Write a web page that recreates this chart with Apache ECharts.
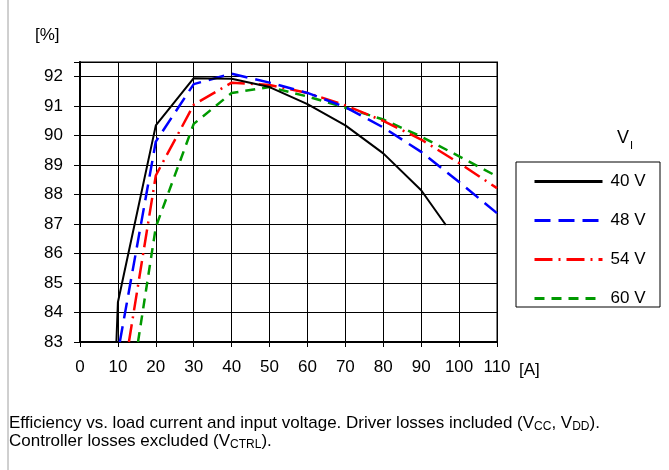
<!DOCTYPE html>
<html>
<head>
<meta charset="utf-8">
<script src="https://cdn.jsdelivr.net/npm/echarts@6/dist/echarts.min.js"></script>
<style>
  html, body { margin: 0; padding: 0; background: #fff; }
  #chart { width: 669px; height: 470px; }
</style>
</head>
<body>
<div id="chart"></div>
<script>
// Efficiency [%] vs. load current [A] for four input voltages
const seriesNames = ['40 V', '48 V', '54 V', '60 V'];

const current40 = [9.6, 10, 20, 30, 40, 50, 60, 70, 80, 90, 96.5];
const eff40     = [83, 84.35, 90.35, 91.95, 91.93, 91.65, 91.07, 90.35, 89.4, 88.15, 86.97];

const current48 = [10.5, 20, 30, 40, 50, 60, 70, 80, 90, 100, 110];
const eff48     = [83, 89.8, 91.75, 92.1, 91.8, 91.45, 90.97, 90.28, 89.45, 88.43, 87.37];

const current54 = [12.9, 20, 30, 40, 50, 60, 70, 80, 90, 100, 110];
const eff54     = [83, 88.65, 91.05, 91.8, 91.72, 91.45, 91.03, 90.5, 89.87, 89.07, 88.22];

const current60 = [15.3, 20, 30, 40, 50, 60, 70, 80, 90, 100, 110];
const eff60     = [83, 86.9, 90.4, 91.45, 91.65, 91.33, 90.95, 90.55, 89.97, 89.3, 88.62];

const xTicks = [0, 10, 20, 30, 40, 50, 60, 70, 80, 90, 100, 110];
const yTicks = [83, 84, 85, 86, 87, 88, 89, 90, 91, 92];

const pairs = (xs, ys) => xs.map((x, i) => [x, ys[i]]);

const FONT = '"Liberation Sans", Arial, sans-serif';

const lineStyles = [
  { color: '#000000', width: 2, type: 'solid' },
  { color: '#0000ff', width: 2.5, type: [16, 8] },
  { color: '#ff0000', width: 2.5, type: [18, 6, 2, 6] },
  { color: '#009900', width: 2.5, type: [10, 7] }
];
const dataSets = [
  pairs(current40, eff40),
  pairs(current48, eff48),
  pairs(current54, eff54),
  pairs(current60, eff60)
];

const chart = echarts.init(document.getElementById('chart'), null, { renderer: 'canvas' });

chart.setOption({
  backgroundColor: '#ffffff',
  animation: false,
  textStyle: { fontFamily: FONT },
  grid: {
    left: 80, right: 172, top: 62, bottom: 128,
    show: true, borderColor: '#808080', borderWidth: 2
  },
  xAxis: {
    type: 'value',
    min: xTicks[0], max: xTicks[xTicks.length - 1], interval: 10,
    axisLine: { show: true, onZero: false, lineStyle: { color: '#000', width: 2 } },
    axisTick: { show: true, length: 5, lineStyle: { color: '#000', width: 1 } },
    axisLabel: { color: '#000', fontSize: 17, margin: 17, fontFamily: FONT },
    splitLine: { show: true, lineStyle: { color: '#000', width: 1 } }
  },
  yAxis: {
    type: 'value',
    min: yTicks[0], max: 92.5, interval: 1,
    axisLine: { show: true, onZero: false, lineStyle: { color: '#000', width: 2 } },
    axisTick: { show: true, length: 6, lineStyle: { color: '#000', width: 1 } },
    axisLabel: {
      color: '#000', fontSize: 17, margin: 17, fontFamily: FONT,
      formatter: v => (yTicks.indexOf(v) >= 0 ? String(v) : '')
    },
    splitLine: { show: true, lineStyle: { color: '#000', width: 1 } }
  },
  legend: {
    orient: 'vertical',
    left: 533, top: 173,
    padding: 0,
    itemWidth: 68, itemHeight: 14,
    itemGap: 22,
    itemStyle: { opacity: 0 },
    lineStyle: { width: 3 },
    textStyle: { color: '#000', fontSize: 17, fontFamily: FONT, padding: [0, 0, 0, 3] },
    data: seriesNames
  },
  series: seriesNames.map((name, i) => ({
    name,
    type: 'line',
    data: dataSets[i],
    symbol: 'none',
    lineStyle: lineStyles[i],
    itemStyle: { color: lineStyles[i].color },
    z: 10 - i
  })),
  graphic: [
    // page frame on the left
    { type: 'line', shape: { x1: 8, y1: 0, x2: 8, y2: 470 },
      style: { stroke: '#a0a0a0', lineWidth: 1 } },
    // legend frame
    { type: 'rect', shape: { x: 516, y: 162, width: 144, height: 145 },
      style: { fill: 'none', stroke: '#000', lineWidth: 1 } },
    // legend title V_I
    { type: 'text', left: 617, top: 129,
      style: {
        text: '{v|V}{s|I}',
        rich: {
          v: { fontSize: 18, fontFamily: FONT, fill: '#000' },
          s: { fontSize: 11, fontFamily: FONT, fill: '#000', verticalAlign: 'bottom', padding: [0, 0, -4, 1] }
        }
      } },
    // axis units
    { type: 'text', left: 35, top: 27,
      style: { text: '[%]', fontSize: 17, fontFamily: FONT, fill: '#000' } },
    { type: 'text', left: 519, top: 362,
      style: { text: '[A]', fontSize: 17, fontFamily: FONT, fill: '#000' } },
    // caption
    { type: 'text', left: 9, top: 414,
      style: {
        text: 'Efficiency vs. load current and input voltage. Driver losses included (V{s|CC}, V{s|DD}).\nController losses excluded (V{s|CTRL}).',
        fontSize: 17, fontFamily: FONT, fill: '#000', lineHeight: 18,
        rich: {
          s: { fontSize: 12, fontFamily: FONT, fill: '#000', lineHeight: 18, verticalAlign: 'bottom', padding: [0, 0, -1, 0] }
        }
      } }
  ]
});
</script>
</body>
</html>
